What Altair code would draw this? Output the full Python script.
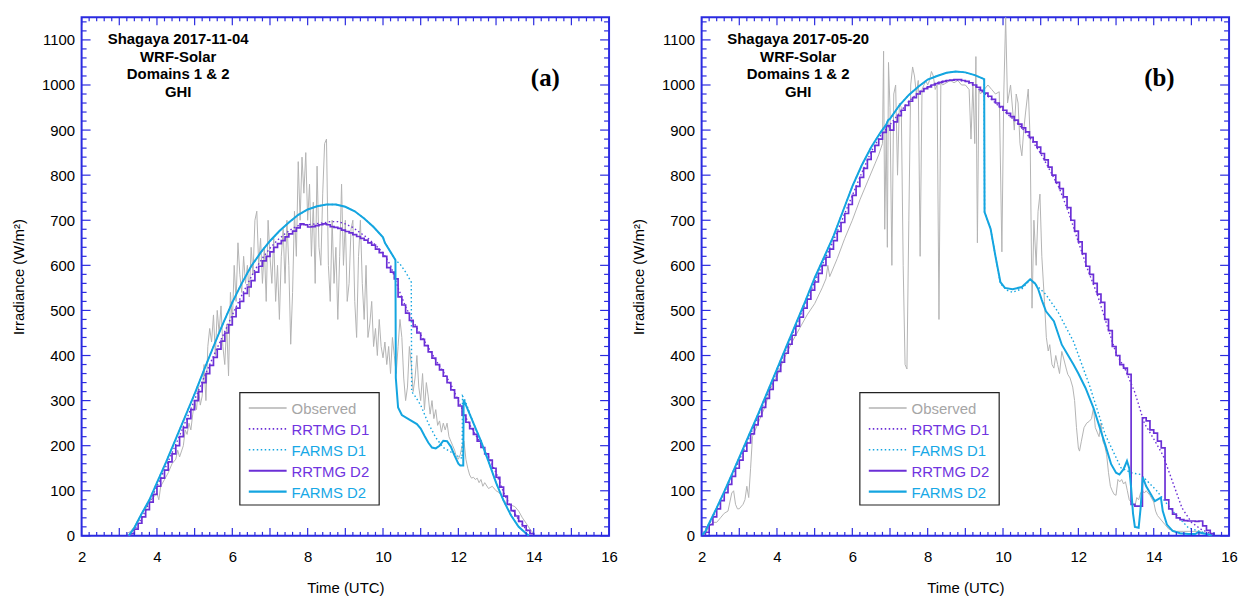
import altair as alt
import numpy as np
import pandas as pd

# ---------------- layout / style constants ----------------
W, H = 530, 521
XMIN, XMAX = 2, 16
YMIN, YMAX = 0, 1150
BLUE = "#2b2be0"
FONT = "Liberation Sans"

SERIES = ["Observed", "RRTMG D1", "FARMS D1", "RRTMG D2", "FARMS D2"]
COLORS = ["#b3b3b3", "#6b2fd6", "#14a5e0", "#6b2fd6", "#14a5e0"]
TEXTCOL = ["#a6a6a6", "#7034e0", "#18a8e6", "#7034e0", "#18a8e6"]
DASHES = [[1, 0], [1.5, 2.5], [1.5, 2.5], [1, 0], [1, 0]]
WIDTHS = [1.0, 1.4, 1.4, 1.7, 2.0]

X_LABELS = [2, 4, 6, 8, 10, 12, 14, 16]
Y_LABELS = [0, 100, 200, 300, 400, 500, 600, 700, 800, 900, 1000, 1100]

# ---------------- panel (a): 2017-11-04 ----------------
a_obs_t = [3.2, 3.3, 3.4, 3.5, 3.6, 3.7, 3.8, 3.9, 4.0, 4.05, 4.1, 4.2, 4.3, 4.4, 4.5, 4.55, 4.6, 4.7, 4.75, 4.8,
           4.85, 4.9, 4.95, 5.0, 5.05, 5.1, 5.15, 5.2, 5.25, 5.3, 5.35, 5.4, 5.45, 5.5, 5.55, 5.6, 5.65, 5.7, 5.75, 5.8,
           5.85, 5.9, 5.95, 6.0, 6.05, 6.1, 6.15, 6.2, 6.25, 6.3, 6.35, 6.4, 6.45, 6.5, 6.55, 6.6, 6.65, 6.7, 6.75, 6.8,
           6.85, 6.9, 6.95, 7.0, 7.05, 7.1, 7.15, 7.2, 7.25, 7.3, 7.35, 7.4, 7.45, 7.5, 7.55, 7.6, 7.65, 7.7, 7.75, 7.8,
           7.85, 7.9, 7.95, 8.0, 8.05, 8.1, 8.15, 8.2, 8.25, 8.3, 8.35, 8.4, 8.45, 8.5, 8.55, 8.6, 8.65, 8.7, 8.75, 8.8,
           8.85, 8.9, 8.95, 9.0, 9.05, 9.1, 9.15, 9.2, 9.25, 9.3, 9.35, 9.4, 9.45, 9.5, 9.55, 9.6, 9.65, 9.7, 9.75, 9.8,
           9.85, 9.9, 9.95, 10.0, 10.05, 10.1, 10.15, 10.2, 10.25, 10.3, 10.35, 10.4, 10.45, 10.5, 10.55, 10.6, 10.65,
           10.7, 10.75, 10.8, 10.85, 10.9, 10.95, 11.0, 11.05, 11.1, 11.15, 11.2, 11.25, 11.3, 11.35, 11.4, 11.45, 11.5,
           11.55, 11.6, 11.65, 11.7, 11.75, 11.8, 11.85, 11.9, 11.95, 12.0, 12.05, 12.1, 12.15, 12.2, 12.25, 12.3, 12.35,
           12.4, 12.45, 12.5, 12.55, 12.6, 12.65, 12.7, 12.8, 12.9, 13.0, 13.1, 13.2, 13.3, 13.4, 13.5, 13.6, 13.7, 13.8,
           13.9, 14.0]
a_obs_v = [5, 10, 20, 35, 50, 60, 75, 85, 95, 80, 110, 125, 140, 160, 170, 190, 175, 200, 235, 225,
           250, 235, 270, 300, 280, 330, 290, 310, 380, 300, 420, 460, 430, 490, 400, 500, 450, 510, 420, 380,
           470, 355, 540, 470, 600, 520, 650, 580, 540, 620, 560, 600, 530, 640, 580, 700, 720, 600, 660, 560,
           640, 520, 700, 620, 560, 660, 520, 600, 480, 620, 680, 560, 700, 600, 425, 540, 720, 620, 830, 700,
           840, 760, 850, 700, 780, 620, 740, 560, 820, 640, 600, 760, 870, 880, 600, 520, 700, 560, 640, 480,
           620, 780, 600, 700, 520, 560, 680, 700, 520, 440, 620, 700, 560, 480, 600, 440, 470, 520, 420, 460,
           400, 480, 420, 395, 430, 380, 420, 360, 440, 400, 360, 420, 480, 440, 350, 300, 330,
           420, 380, 320, 350, 400, 330, 300, 360, 280, 340, 310, 270, 300, 260, 280, 245, 255,
           230, 250, 235, 250, 220, 210, 200, 190, 175, 170, 180, 200, 210, 170, 150, 135, 128,
           130, 125, 128, 118, 125, 110, 118, 105, 110, 100, 95, 80, 70, 68, 65, 55, 40, 28,
           15, 5]

a_rr2_start = 3.2
a_rr2_v = [0, 5, 15, 28, 42, 58, 75, 92, 110, 128, 146, 164, 182, 200, 220, 240, 260, 280, 300, 320,
           340, 360, 378, 396, 414, 432, 450, 468, 486, 505, 520, 538, 552, 566, 585, 598, 610, 620, 630, 640,
           648, 655, 663, 670, 676, 683, 692, 690, 685, 686, 688, 690, 692, 690, 686, 684, 682, 678, 675, 672,
           668, 664, 660, 656, 650, 645, 636, 628, 620, 595, 585, 570, 530, 512, 494, 478, 464, 450, 436, 422,
           408, 394, 380, 368, 354, 340, 324, 306, 288, 268, 252, 238, 225, 210, 196, 182, 168, 150, 130, 108,
           88, 70, 56, 44, 32, 22, 12, 5, 0]

a_rr1_t = [3.2, 3.4, 3.6, 3.8, 4.0, 4.2, 4.4, 4.6, 4.8, 5.0, 5.2, 5.4, 5.6, 5.8, 6.0, 6.2, 6.4, 6.6, 6.8, 7.0,
           7.2, 7.4, 7.6, 7.8, 8.0, 8.2, 8.4, 8.6, 8.8, 9.0, 9.2, 9.4, 9.6, 9.8, 10.0, 10.2, 10.4, 10.6, 10.8, 11.0,
           11.2, 11.4, 11.6, 11.8, 12.0, 12.2, 12.4, 12.6, 12.8, 13.0, 13.2, 13.4, 13.6, 13.8, 14.0]
a_rr1_v = [0, 14, 40, 74, 110, 147, 184, 222, 262, 302, 342, 380, 417, 453, 490, 525, 558, 590, 616, 638,
           656, 670, 682, 690, 690, 692, 694, 697, 697, 692, 684, 672, 660, 645, 628, 600, 550, 508, 476, 446,
           418, 390, 364, 336, 300, 262, 232, 204, 176, 140, 96, 62, 36, 14, 0]

a_fa2_t = [3.25, 3.4, 3.6, 3.8, 4.0, 4.25, 4.5, 4.75, 5.0, 5.25, 5.5, 5.75, 6.0, 6.25, 6.5, 6.75, 7.0, 7.25, 7.5,
           7.75, 8.0, 8.25, 8.5, 8.75, 9.0, 9.25, 9.5, 9.75, 10.0, 10.05, 10.33, 10.34, 10.4, 10.5, 10.7, 10.9,
           11.0, 11.1, 11.2, 11.3, 11.4, 11.5, 11.6, 11.7, 11.8, 11.9, 12.0, 12.05, 12.13, 12.14, 12.4, 12.6,
           12.8, 13.0, 13.2, 13.4, 13.6, 13.8, 13.87]
a_fa2_v = [0, 18, 50, 80, 118, 165, 215, 265, 315, 368, 420, 470, 518, 560, 598, 628, 654, 676, 695,
           712, 724, 731, 735, 735, 730, 720, 704, 685, 662, 650, 612, 350, 285, 268, 258, 248,
           238, 222, 207, 196, 194, 200, 211, 210, 198, 178, 160, 156, 156, 302, 250, 210,
           165, 118, 78, 45, 20, 5, 0]

a_fa1_t = [3.25, 3.4, 3.6, 3.8, 4.0, 4.25, 4.5, 4.75, 5.0, 5.25, 5.5, 5.75, 6.0, 6.25, 6.5, 6.75, 7.0, 7.25, 7.5,
           7.75, 8.0, 8.25, 8.5, 8.75, 9.0, 9.25, 9.5, 9.75, 10.0, 10.05, 10.33, 10.45, 10.6, 10.75, 10.76, 10.85,
           11.0, 11.2, 11.4, 11.6, 11.8, 12.0, 12.1, 12.11, 12.17, 12.4, 12.6, 12.8, 13.0, 13.2, 13.4, 13.6, 13.8,
           13.87]
a_fa1_v = [0, 18, 50, 80, 118, 165, 215, 265, 315, 368, 420, 470, 518, 560, 598, 628, 654, 676, 695,
           712, 724, 731, 735, 735, 730, 720, 704, 685, 662, 650, 612, 603, 585, 563, 320, 310,
           290, 250, 218, 196, 186, 176, 172, 310, 302, 250, 210, 165, 118, 78, 45, 20, 5,
           0]

# ---------------- panel (b): 2017-05-20 ----------------
b_obs_t = [2.0, 2.1, 2.2, 2.3, 2.4, 2.5, 2.6, 2.7, 2.8, 2.85, 2.9, 2.95, 3.0, 3.1, 3.15, 3.2, 3.25, 3.3, 3.35, 3.4,
           3.5, 3.6, 3.7, 3.8, 3.9, 4.0, 4.2, 4.4, 4.6, 4.8, 5.0, 5.2, 5.3, 5.35, 5.4, 5.6, 5.8, 6.0, 6.2, 6.4,
           6.6, 6.7, 6.8, 6.83, 6.86, 6.9, 6.93, 6.96, 7.0, 7.05, 7.1, 7.15, 7.2, 7.25, 7.3, 7.35, 7.4, 7.45, 7.5,
           7.55, 7.6, 7.65, 7.7, 7.75, 7.8, 7.85, 7.9, 7.95, 8.0, 8.05, 8.1, 8.15, 8.2, 8.25, 8.3, 8.35, 8.4, 8.5,
           8.6, 8.7, 8.8, 8.9, 9.0, 9.1, 9.15, 9.2, 9.25, 9.28, 9.32, 9.36, 9.4, 9.5, 9.6, 9.7, 9.8, 9.9, 9.97,
           10.02, 10.07, 10.12, 10.2, 10.3, 10.35, 10.4, 10.45, 10.5, 10.55, 10.6, 10.67, 10.72, 10.77, 10.82,
           10.88, 10.93, 10.98, 11.03, 11.1, 11.15, 11.2, 11.24, 11.3, 11.35, 11.4, 11.45, 11.5, 11.56, 11.62,
           11.68, 11.72, 11.78, 11.85, 11.9, 11.95, 12.0, 12.03, 12.08, 12.15, 12.22, 12.29, 12.35, 12.4, 12.45,
           12.5, 12.55, 12.6, 12.65, 12.7, 12.75, 12.8, 12.85, 12.9, 12.95, 13.0, 13.05, 13.1, 13.15, 13.2, 13.25,
           13.3, 13.35, 13.45, 13.5, 13.55, 13.6, 13.65, 13.7, 13.75, 13.8, 13.9, 14.0, 14.05, 14.1, 14.2, 14.3,
           14.4, 14.6, 14.8, 15.0, 15.2, 15.4, 15.5]
b_obs_v = [0, 5, 20, 30, 30, 40, 50, 55, 95, 100, 70, 60, 60, 70, 80, 110, 85, 150, 220, 230,
           250, 270, 290, 320, 340, 355, 395, 430, 460, 490, 515, 550, 570, 600, 575, 615, 660, 700, 745, 785,
           825, 845, 870, 1075, 680, 900, 640, 1050, 950, 600, 980, 1000, 800, 960, 950, 600, 380, 370, 700,
           1000, 1040, 1020, 980, 1010, 620, 990, 1000, 1010, 1000, 1010, 1030, 1020, 990, 1000, 480, 1005, 1000, 1005,
           1010, 1005, 1010, 1000, 1000, 990, 880, 1000, 870, 1063, 650, 990, 980, 990, 1000, 990, 980, 985, 630,
           980, 1150, 960, 1000, 900, 980, 960, 870, 843, 900, 940, 991, 880, 505, 700,
           600, 720, 758, 620, 520, 440, 410, 424, 380, 372, 400, 380, 360, 409, 390,
           370, 358, 350, 330, 300, 240, 195, 188, 210, 240, 250, 254, 260, 284, 240,
           230, 220, 250, 210, 200, 180, 140, 110, 100, 92, 90, 125, 120, 125, 115, 120,
           100, 80, 70, 65, 85, 80, 95, 100, 95, 100, 90, 75, 55, 45, 35, 25,
           15, 10, 10, 10, 10, 5, 0]

b_rr2_start = 2.0
b_rr2_v = [0, 8, 25, 42, 60, 78, 96, 114, 132, 150, 168, 188, 206, 226, 246, 265, 285, 305, 325, 345,
           365, 385, 405, 425, 445, 465, 485, 505, 525, 545, 563, 582, 600, 618, 636, 655, 675, 695, 715, 735,
           755, 775, 795, 815, 835, 852, 866, 880, 895, 910, 900, 918, 932, 944, 955, 964, 972, 980, 986, 992,
           996, 1000, 1003, 1006, 1008, 1010, 1011, 1012, 1012, 1010, 1008, 1005, 1000, 995, 988, 982, 975, 968, 960, 952,
           944, 937, 930, 922, 913, 905, 896, 884, 874, 862, 848, 834, 818, 800, 784, 770, 752, 728, 700, 676,
           652, 626, 598, 580, 560, 536, 518, 480, 455, 420, 400, 380, 372, 358, 70, 66, 66, 262, 255, 235,
           228, 210, 195, 80, 60, 48, 40, 36, 34, 33, 33, 32, 33, 22, 12, 5, 0]

b_rr1_t = [2.0, 2.25, 2.5, 2.75, 3.0, 3.25, 3.5, 3.75, 4.0, 4.25, 4.5, 4.75, 5.0, 5.25, 5.5, 5.75, 6.0, 6.25,
           6.5, 6.75, 7.0, 7.25, 7.5, 7.75, 8.0, 8.25, 8.5, 8.75, 9.0, 9.25, 9.5, 9.75, 10.0, 10.25, 10.5, 10.75,
           11.0, 11.25, 11.5, 11.75, 12.0, 12.25, 12.5, 12.75, 13.0, 13.25, 13.5, 13.75, 14.0, 14.25, 14.5, 14.75,
           15.0, 15.25, 15.5, 15.6]
b_rr1_v = [0, 33, 78, 123, 168, 216, 265, 315, 365, 415, 465, 515, 563, 610, 655, 705, 755, 805,
           852, 888, 912, 938, 964, 983, 996, 1005, 1010, 1012, 1008, 998, 982, 964, 944, 926, 905, 879,
           848, 810, 770, 715, 652, 590, 536, 470, 405, 368, 318, 250, 215, 178, 120, 62,
           30, 15, 5, 0]

b_fa2_t = [2.0, 2.1, 2.2, 2.4, 2.6, 2.8, 3.0, 3.25, 3.5, 3.75, 4.0, 4.25, 4.5, 4.75, 5.0, 5.25, 5.5, 5.75, 6.0,
           6.25, 6.5, 6.75, 6.9, 6.95, 7.0, 7.25, 7.5, 7.75, 8.0, 8.25, 8.5, 8.75, 9.0, 9.25, 9.5, 9.51, 9.67,
           9.8, 9.93, 10.05, 10.25, 10.5, 10.72, 10.85, 10.93, 11.03, 11.14, 11.35, 11.56, 11.87, 12.0, 12.19,
           12.4, 12.55, 12.71, 12.87, 13.0, 13.09, 13.2, 13.29, 13.35, 13.4, 13.45, 13.5, 13.6, 13.65, 13.71,
           13.8, 13.87, 14.03, 14.19, 14.24, 14.35, 14.5, 14.7, 14.92, 15.1, 15.18, 15.3, 15.45, 15.55]
b_fa2_v = [0, 10, 28, 62, 98, 136, 174, 222, 270, 320, 370, 420, 470, 520, 572, 618, 665, 720, 775,
           822, 862, 895, 912, 922, 925, 955, 978, 996, 1012, 1020, 1027, 1030, 1028, 1022, 1013, 718, 681,
           620, 563, 550, 547, 552, 569, 560, 548, 523, 498, 476, 424, 380, 360, 328,
           284, 245, 203, 159, 140, 136, 148, 166, 150, 107, 50, 20, 18, 60, 130,
           110, 100, 77, 85, 55, 25, 11, 6, 4, 4, 8, 6, 3, 0]

b_fa1_t = [2.0, 2.1, 2.2, 2.4, 2.6, 2.8, 3.0, 3.25, 3.5, 3.75, 4.0, 4.25, 4.5, 4.75, 5.0, 5.25, 5.5, 5.75, 6.0,
           6.25, 6.5, 6.75, 6.9, 6.95, 7.0, 7.25, 7.5, 7.75, 8.0, 8.25, 8.5, 8.75, 9.0, 9.25, 9.5, 9.51, 9.67,
           9.8, 9.93, 10.1, 10.25, 10.5, 10.72, 10.9, 11.14, 11.45, 11.87, 12.29, 12.71, 13.13, 13.4, 13.66,
           14.08, 14.5, 14.92, 15.45, 15.55]
b_fa1_v = [0, 10, 28, 62, 98, 136, 174, 222, 270, 320, 370, 420, 470, 520, 572, 618, 665, 720, 775,
           822, 862, 895, 912, 922, 925, 955, 978, 996, 1012, 1020, 1027, 1030, 1028, 1022, 1013, 718, 681,
           620, 560, 545, 540, 548, 568, 555, 535, 498, 431, 335, 225, 151, 140, 136,
           100, 55, 18, 4, 0]

# ---------------- helpers ----------------
xs = alt.Scale(domain=[XMIN, XMAX], nice=False, zero=False)
ys = alt.Scale(domain=[YMIN, YMAX], nice=False)
x_axis = alt.Axis(values=X_LABELS, title="Time (UTC)", labelFlush=False, labelOverlap=False, format="d",
                  ticks=False, tickSize=0, domain=False, grid=False, labelPadding=14, titlePadding=16)
y_axis = alt.Axis(values=Y_LABELS, title="Irradiance (W/m²)", labelFlush=False, labelOverlap=False, format="d",
                  ticks=False, tickSize=0, domain=False, grid=False, labelPadding=7, titlePadding=15)
XE = alt.X("t:Q", scale=xs, axis=x_axis)
YE = alt.Y("v:Q", scale=ys, axis=y_axis)


def line_layer(t, v, idx, interp="linear"):
    df = pd.DataFrame({"t": t, "v": v})
    kw = dict(color=COLORS[idx], strokeWidth=WIDTHS[idx], interpolate=interp, clip=True)
    if DASHES[idx] != [1, 0]:
        kw["strokeDash"] = DASHES[idx]
    return alt.Chart(df).mark_line(**kw).encode(x=XE, y=YE)


def step_times(start, vals):
    return list(np.round(start + 0.1 * np.arange(len(vals)), 2))


X_MAJOR = list(range(2, 17))
X_MINOR = [v for v in np.round(np.arange(2, 16.001, 0.2), 2) if abs(v - round(v)) > 1e-6]
Y_MAJOR = list(range(0, 1101, 100))
Y_MINOR = [v for v in range(0, 1150, 20) if v % 100 != 0]


def tick_layers():
    layers = []
    for vals, ln in ((X_MAJOR, 8), (X_MINOR, 4)):
        df = pd.DataFrame({"t": vals})
        layers.append(alt.Chart(df).mark_rule(color=BLUE, strokeWidth=1.2).encode(
            x=XE, y=alt.value(H), y2=alt.value(H - ln)))
        layers.append(alt.Chart(df).mark_rule(color=BLUE, strokeWidth=1.2).encode(
            x=XE, y=alt.value(0), y2=alt.value(ln)))
    for vals, ln in ((Y_MAJOR, 9), (Y_MINOR, 5)):
        df = pd.DataFrame({"v": vals})
        layers.append(alt.Chart(df).mark_rule(color=BLUE, strokeWidth=1.2).encode(
            y=YE, x=alt.value(0), x2=alt.value(ln)))
        layers.append(alt.Chart(df).mark_rule(color=BLUE, strokeWidth=1.2).encode(
            y=YE, x=alt.value(W), x2=alt.value(W - ln)))
    return layers


DUMMY = pd.DataFrame({"d": [0]})


def legend_layers():
    layers = [alt.Chart(DUMMY).mark_rect(fill="white", stroke="#222222", strokeWidth=1.2).encode(
        x=alt.value(159), x2=alt.value(299), y=alt.value(377), y2=alt.value(490))]
    for i, name in enumerate(SERIES):
        yy = 392.5 + 21 * i
        kw = dict(color=COLORS[i], strokeWidth=WIDTHS[i] + 0.3)
        if DASHES[i] != [1, 0]:
            kw["strokeDash"] = DASHES[i]
        layers.append(alt.Chart(DUMMY).mark_rule(**kw).encode(
            x=alt.value(168), x2=alt.value(206), y=alt.value(yy)))
        layers.append(alt.Chart(DUMMY).mark_text(
            align="left", baseline="middle", font=FONT, fontSize=15, color=TEXTCOL[i]).encode(
            x=alt.value(211), y=alt.value(yy + 1), text=alt.value(name)))
    return layers


def panel(date, label, label_x, obs_t, obs_v, rr1_t, rr1_v, fa1_t, fa1_v, rr2_start, rr2_v, fa2_t, fa2_v):
    layers = [
        line_layer(obs_t, obs_v, 0),
        line_layer(rr1_t, rr1_v, 1),
        line_layer(fa1_t, fa1_v, 2),
        line_layer(step_times(rr2_start, rr2_v), rr2_v, 3, "step-after"),
        line_layer(fa2_t, fa2_v, 4),
    ]
    layers += tick_layers()
    title_lines = ["Shagaya " + date, "WRF-Solar", "Domains 1 & 2", "GHI"]
    layers.append(alt.Chart(DUMMY).mark_text(
        align="center", baseline="top", font=FONT, fontSize=15, fontWeight="bold",
        lineHeight=17.7, color="black").encode(
        x=alt.value(97), y=alt.value(15), text=alt.value(title_lines)))
    layers.append(alt.Chart(DUMMY).mark_text(
        align="center", baseline="middle", font="Liberation Serif", fontSize=25, fontWeight="bold",
        color="black").encode(x=alt.value(label_x), y=alt.value(61), text=alt.value(label)))
    layers += legend_layers()
    return alt.layer(*layers).properties(width=W, height=H)


pa = panel("2017-11-04", "(a)", 466, a_obs_t, a_obs_v, a_rr1_t, a_rr1_v, a_fa1_t, a_fa1_v,
           a_rr2_start, a_rr2_v, a_fa2_t, a_fa2_v)
pb = panel("2017-05-20", "(b)", 460, b_obs_t, b_obs_v, b_rr1_t, b_rr1_v, b_fa1_t, b_fa1_v,
           b_rr2_start, b_rr2_v, b_fa2_t, b_fa2_v)

chart = alt.hconcat(pa, pb, spacing=11).properties(
    padding={"left": 10, "top": 14, "right": 5, "bottom": 2},
    background="white",
).configure_view(
    stroke=BLUE, strokeWidth=2
).configure_axis(
    labelFont=FONT, titleFont=FONT, labelFontSize=15, titleFontSize=15,
    labelColor="black", titleColor="black", titleFontWeight="normal"
)

chart.save("out.html", embed_options={"renderer": "svg", "actions": False})
